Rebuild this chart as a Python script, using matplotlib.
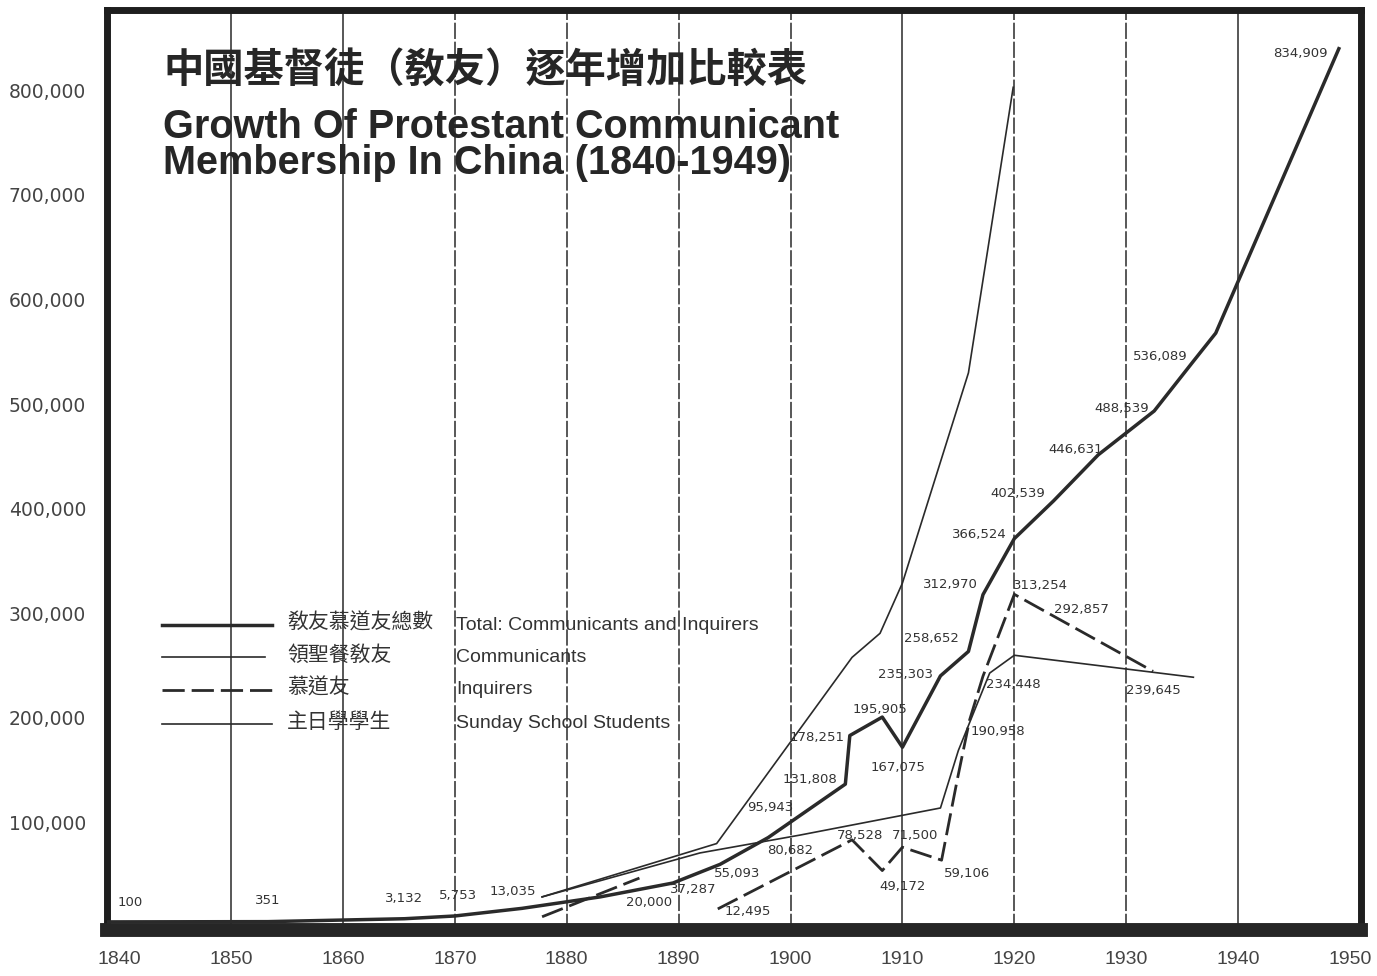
import numpy as np
import matplotlib
matplotlib.use("Agg")
import matplotlib.pyplot as plt
from matplotlib.lines import Line2D
from matplotlib.transforms import ScaledTranslation

plt.rcParams['font.family'] = ['DejaVu Sans', 'Noto Sans CJK TC']

W, H = 1377, 976

# thick solid line (Total: Communicants and Inquirers)
total_years = [1839, 1853.3, 1865.5, 1870, 1876, 1883, 1889.5, 1893.7, 1898, 1904.9, 1905.3,
               1908.2, 1910, 1913.4, 1915.9, 1917.2, 1920, 1923.5, 1927.5, 1932.5, 1936, 1938, 1949]
total_vals = [100, 351, 3132, 5753, 13035, 24000, 37287, 55093, 80682, 131808, 178251,
              195905, 167075, 235303, 258652, 312970, 366524, 402539, 446631, 488539, 536089, 563000, 834909]

# thin steep line
comm_years = [1877.8, 1893.4, 1905.5, 1908, 1910, 1915.9, 1919.9]
comm_vals = [24000, 75000, 253000, 276000, 324000, 525000, 798000]

# dashed line (Inquirers), gap between the two pieces
inq_years = [1877.8, 1886.5, np.nan, 1893.5, 1905.5, 1908.2, 1910, 1913.5, 1914.9, 1916.0, 1917.2, 1920, 1932.4]
inq_vals = [5000, 42000, np.nan, 12495, 78528, 49172, 71500, 59106, 136000, 193000, 235000, 313254, 239645]

# thin line (Sunday School Students)
sunday_years = [1877.8, 1891.9, 1900.8, 1913.4, 1915.0, 1916.7, 1917.8, 1920, 1936]
sunday_vals = [24000, 66000, 83000, 109000, 164000, 209000, 238000, 255000, 234000]

# printed figures on the chart: text, year, value
point_labels = [
    ("100", 1841.0, 18200), ("351", 1853.3, 20100), ("3,132", 1865.5, 22000),
    ("5,753", 1870.3, 24900), ("13,035", 1875.2, 28700), ("20,000", 1887.4, 18200),
    ("37,287", 1891.3, 30600), ("55,093", 1895.2, 46800), ("80,682", 1900.0, 67900),
    ("95,943", 1898.2, 109000), ("131,808", 1901.7, 136700), ("178,251", 1902.4, 176000),
    ("195,905", 1908.0, 203600), ("167,075", 1909.6, 148000), ("235,303", 1910.3, 237000),
    ("258,652", 1912.6, 270600), ("312,970", 1914.3, 323000), ("366,524", 1916.9, 370000),
    ("402,539", 1920.3, 410000), ("446,631", 1925.5, 452000), ("488,539", 1929.6, 491000),
    ("536,089", 1933.0, 541000), ("834,909", 1945.6, 830000), ("313,254", 1922.3, 322000),
    ("292,857", 1926.0, 299000), ("239,645", 1932.4, 221000), ("234,448", 1919.9, 226600),
    ("190,958", 1918.5, 182600), ("78,528", 1906.2, 83000), ("71,500", 1911.1, 83000),
    ("49,172", 1910.0, 34400), ("59,106", 1915.8, 45900), ("12,495", 1896.2, 9600),
]

x_ticks = list(range(1840, 1951, 10))
y_ticks = list(range(100000, 800001, 100000))
grid_years = list(range(1850, 1941, 10))
grid_dashed = [False, False, True, True, True, True, False, True, True, False]

legend_zh = ['敎友慕道友總數', '領聖餐敎友', '慕道友', '主日學學生']
legend_en = ['Total: Communicants and Inquirers', 'Communicants', 'Inquirers', 'Sunday School Students']

title_zh = '中國基督徒（敎友）逐年增加比較表'
title_en = ['Growth Of Protestant Communicant', 'Membership In China (1840-1949)']

ink = '#2a2a2a'

def fx(px):
    return px / W

def fy(py):
    return 1 - py / H

fig = plt.figure(figsize=(W / 100, H / 100), dpi=100)
ax = fig.add_axes([fx(107), fy(930), (1361 - 107) / W, (930 - 10) / H])
ax.set_xlim(1838.92, 1950.98)
ax.set_ylim(-7648, 871893)

for yr, dsh in zip(grid_years, grid_dashed):
    ax.axvline(yr, color='#4a4a4a', lw=1.3, ls=(0, (9, 1.5)) if dsh else '-', zorder=1)

ax.plot(total_years, total_vals, color=ink, lw=2.5, zorder=4, solid_joinstyle='round')
ax.plot(comm_years, comm_vals, color=ink, lw=1.2, zorder=3)
ax.plot(sunday_years, sunday_vals, color=ink, lw=1.2, zorder=3)
ax.plot(inq_years, inq_vals, color=ink, lw=2.0, ls=(0, (8, 2.5)), zorder=3)

for txt, yr, v in point_labels:
    ax.text(yr, v, txt, fontsize=9.5, color='#333333', ha='center', va='center', zorder=5)

ax.set_xticks(x_ticks)
ax.set_xticklabels([str(t) for t in x_ticks], fontsize=14, color='#444444', family='Liberation Sans')
ax.set_yticks(y_ticks)
ax.set_yticklabels([f'{t:,}' for t in y_ticks], fontsize=13.5, color='#444444')
ax.tick_params(axis='both', length=0)
ax.tick_params(axis='x', pad=15)
ax.tick_params(axis='y', pad=15)
shift = ScaledTranslation(0, -0.05, fig.dpi_scale_trans)
for lab in ax.get_yticklabels():
    lab.set_transform(lab.get_transform() + shift)

for side in ['left', 'right', 'top']:
    ax.spines[side].set_linewidth(5)
    ax.spines[side].set_color('#1e1e1e')
ax.spines['bottom'].set_linewidth(10)
ax.spines['bottom'].set_color('#262626')

# titles
fig.text(fx(163), fy(70), title_zh, fontsize=29, weight='bold', color='#262626',
         family=['Noto Sans CJK TC'], va='center', ha='left')
fig.text(fx(163), fy(127), title_en[0], fontsize=28.5, weight='bold', color='#262626',
         family='Liberation Sans', va='center', ha='left')
fig.text(fx(163), fy(163), title_en[1], fontsize=28.5, weight='bold', color='#262626',
         family='Liberation Sans', va='center', ha='left')

# legend drawn by hand
rows_y = [625, 657, 690, 724]
row_style = [dict(lw=2.5), dict(lw=1.2), dict(lw=2.0, ls=(0, (8, 2.5))), dict(lw=1.2)]
row_end = [272, 265, 272, 272]
for y, st, x1, zh, en in zip(rows_y, row_style, row_end, legend_zh, legend_en):
    fig.add_artist(Line2D([fx(162), fx(x1)], [fy(y), fy(y)], color=ink,
                          transform=fig.transFigure, **st))
    fig.text(fx(287), fy(y - 2), zh, fontsize=15, color='#333333',
             family=['Noto Sans CJK TC'], va='center', ha='left')
    fig.text(fx(456), fy(y), en, fontsize=14, color='#333333',
             family='Liberation Sans', va='center', ha='left')

fig.savefig('out.png', dpi=100)
